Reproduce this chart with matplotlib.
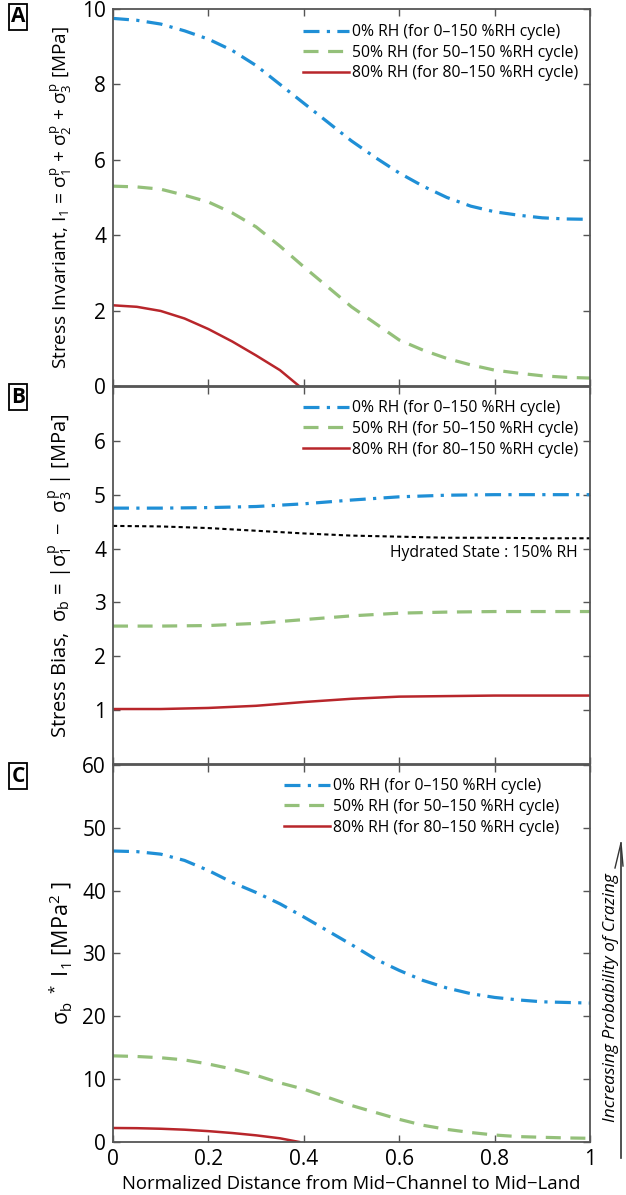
import numpy as np
import matplotlib.pyplot as plt

plt.rcParams['font.family'] = ['Open Sans', 'DejaVu Sans']
plt.rcParams['mathtext.fontset'] = 'custom'
plt.rcParams['mathtext.rm'] = 'Open Sans'
plt.rcParams['mathtext.it'] = 'Open Sans'

# datos (paso de 0.05 en x)
x_all = [0.0, 0.05, 0.1, 0.15, 0.2, 0.25, 0.3, 0.35, 0.4, 0.45, 0.5,
         0.55, 0.6, 0.65, 0.7, 0.75, 0.8, 0.85, 0.9, 0.95, 1.0]
x_red = [0.0, 0.05, 0.1, 0.15, 0.2, 0.25, 0.3, 0.35, 0.39]

a_rh0 = [9.75, 9.7, 9.6, 9.42, 9.2, 8.9, 8.5, 8.0, 7.5, 7.0, 6.5,
         6.06, 5.65, 5.3, 5.0, 4.77, 4.62, 4.53, 4.46, 4.43, 4.42]
a_rh50 = [5.3, 5.28, 5.22, 5.06, 4.88, 4.59, 4.22, 3.71, 3.16, 2.63, 2.1,
          1.66, 1.22, 0.95, 0.73, 0.56, 0.42, 0.34, 0.27, 0.23, 0.21]
a_rh80 = [2.14, 2.1, 1.99, 1.79, 1.51, 1.18, 0.81, 0.42, 0.0]

x_b = [0.0, 0.1, 0.2, 0.3, 0.4, 0.5, 0.6, 0.7, 0.8, 0.9, 1.0]
b_rh0 = [4.75, 4.75, 4.76, 4.78, 4.83, 4.9, 4.96, 4.99, 5.0, 5.0, 5.0]
b_hyd = [4.42, 4.41, 4.38, 4.33, 4.28, 4.24, 4.22, 4.2, 4.2, 4.19, 4.19]
b_rh50 = [2.56, 2.56, 2.57, 2.61, 2.68, 2.75, 2.8, 2.82, 2.83, 2.83, 2.83]
b_rh80 = [1.02, 1.02, 1.04, 1.08, 1.15, 1.21, 1.25, 1.26, 1.27, 1.27, 1.27]

c_rh0 = [46.3, 46.2, 45.8, 44.8, 43.2, 41.3, 39.7, 37.9, 35.8, 33.6, 31.4,
         29.1, 27.3, 25.7, 24.5, 23.6, 23.0, 22.6, 22.3, 22.2, 22.1]
c_rh50 = [13.7, 13.6, 13.4, 13.05, 12.4, 11.6, 10.6, 9.4, 8.4, 7.1, 5.8,
          4.7, 3.6, 2.65, 2.0, 1.5, 1.1, 0.85, 0.74, 0.64, 0.58]
c_rh80 = [2.22, 2.19, 2.1, 1.95, 1.72, 1.42, 1.05, 0.58, 0.0]

labels = ['0% RH (for 0\u2013150 %RH cycle)',
          '50% RH (for 50\u2013150 %RH cycle)',
          '80% RH (for 80\u2013150 %RH cycle)']

c_blue = '#1f8fd6'
c_green = '#94c07a'
c_red = '#b8262b'
frame = '#555555'

fig = plt.figure(figsize=(6.26, 11.95), dpi=100)
left, width, h = 0.1805, 0.762, 0.3155
ax_a = fig.add_axes([left, 0.677, width, h])
ax_b = fig.add_axes([left, 0.3607, width, h])
ax_c = fig.add_axes([left, 0.0444, width, h])


def curvas(ax, x, y0, y50, y80, x80, anchor):
    ax.plot(x, y0, color=c_blue, lw=2.3, dashes=(5, 2.3, 1, 2.3), label=labels[0])
    ax.plot(x, y50, color=c_green, lw=2.3, dashes=(4.7, 3), label=labels[1])
    ax.plot(x80, y80, color=c_red, lw=1.8, label=labels[2])
    ax.legend(loc='upper right', bbox_to_anchor=anchor, frameon=False, fontsize=11.3,
              handlelength=2.9, handletextpad=0.2, labelspacing=0.3, borderaxespad=0.2)


curvas(ax_a, x_all, a_rh0, a_rh50, a_rh80, x_red, (0.995, 0.985))
curvas(ax_b, x_b, b_rh0, b_rh50, b_rh80, x_b, (0.995, 0.99))
ax_b.plot(x_b, b_hyd, color='black', lw=1.5, dashes=(2, 1.5))
ax_b.text(0.975, 3.91, 'Hydrated State : 150% RH', ha='right', va='center', fontsize=11.3)
curvas(ax_c, x_all, c_rh0, c_rh50, c_rh80, x_red, (0.955, 0.99))

ax_a.set_ylim(0, 10)
ax_a.set_yticks([0, 2, 4, 6, 8, 10])
ax_b.set_ylim(0, 7)
ax_b.set_yticks([1, 2, 3, 4, 5, 6])
ax_c.set_ylim(0, 60)
ax_c.set_yticks([0, 10, 20, 30, 40, 50, 60])

for ax in (ax_a, ax_b, ax_c):
    ax.set_xlim(0, 1)
    ax.set_xticks([0, 0.2, 0.4, 0.6, 0.8, 1])
    ax.tick_params(direction='in', top=True, right=True, labelsize=15, length=5,
                   color=frame, width=1, pad=5)
    for s in ax.spines.values():
        s.set_color(frame)
        s.set_linewidth(1.3)
ax_a.tick_params(labelbottom=False)
ax_b.tick_params(labelbottom=False)
ax_c.set_xticklabels(['0', '0.2', '0.4', '0.6', '0.8', '1'])

ax_a.set_ylabel(r'Stress Invariant, I$_1$ = $\sigma_1^p$ + $\sigma_2^p$ + $\sigma_3^p$ [MPa]',
                fontsize=13.7, labelpad=6)
ax_b.set_ylabel(r'Stress Bias,  $\sigma_b$ = |$\sigma_1^p$  $-$  $\sigma_3^p$ | [MPa]',
                fontsize=14.5, labelpad=14)
ax_c.set_ylabel(r'$\sigma_b$ $^*$ I$_1$ [MPa$^2$ ]', fontsize=15.5, labelpad=6)
ax_c.set_xlabel('Normalized Distance from Mid\u2212Channel to Mid\u2212Land', fontsize=13.3,
                labelpad=4)

for lab, ypix in (('A', 17), ('B', 397), ('C', 776)):
    fig.text(18 / 626, 1 - ypix / 1195, lab, fontsize=15, fontweight='bold', ha='center',
             va='center', bbox=dict(boxstyle='square,pad=0.1', fc='white', ec='black', lw=1.3))

fig.text(611 / 626, 1 - 998 / 1195, 'Increasing Probability of Crazing', rotation=90,
         style='italic', fontsize=12.5, ha='center', va='center')
fig.add_artist(plt.Line2D([621 / 626, 621 / 626], [1 - 1158 / 1195, 1 - 848 / 1195],
                          color='#333333', lw=1.2))
fig.add_artist(plt.Line2D([621 / 626, 615 / 626], [1 - 843 / 1195, 1 - 868 / 1195],
                          color='#333333', lw=1.0))
fig.add_artist(plt.Line2D([621 / 626, 623 / 626], [1 - 843 / 1195, 1 - 866 / 1195],
                          color='#333333', lw=1.0))

fig.savefig('out.png', dpi=100)
